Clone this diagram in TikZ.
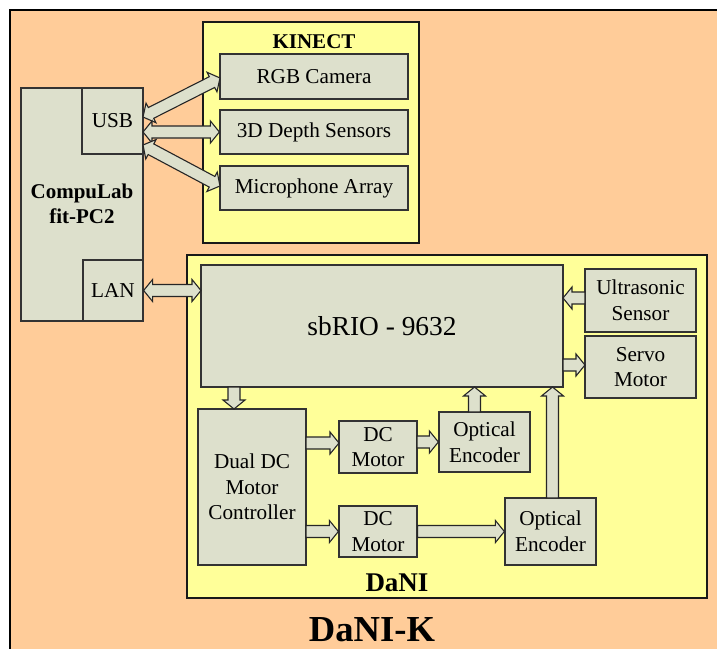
\documentclass[tikz,border=0pt]{standalone}
\usepackage{fontspec}
\setmainfont{Liberation Serif}
\usetikzlibrary{calc}
\definecolor{peach}{RGB}{255,204,153}
\definecolor{lemon}{RGB}{255,255,153}
\definecolor{boxgray}{RGB}{221,224,204}
\newcommand{\onearrow}[2]{\draw[blockarrow] ($(#1)!3pt!90:(#2)$) -- ($(#2)!4.5pt!(#1)!3pt!-90:(#1)$) -- ($(#2)!4.5pt!(#1)!5.5pt!-90:(#1)$) -- (#2) -- ($(#2)!4.5pt!(#1)!5.5pt!90:(#1)$) -- ($(#2)!4.5pt!(#1)!3pt!90:(#1)$) -- ($(#1)!3pt!-90:(#2)$) -- cycle;}
\newcommand{\twoarrow}[2]{\draw[blockarrow] (#1) -- ($(#1)!4.5pt!(#2)!5.5pt!90:(#2)$) -- ($(#1)!4.5pt!(#2)!3pt!90:(#2)$) -- ($(#2)!4.5pt!(#1)!3pt!-90:(#1)$) -- ($(#2)!4.5pt!(#1)!5.5pt!-90:(#1)$) -- (#2) -- ($(#2)!4.5pt!(#1)!5.5pt!90:(#1)$) -- ($(#2)!4.5pt!(#1)!3pt!90:(#1)$) -- ($(#1)!4.5pt!(#2)!3pt!-90:(#2)$) -- ($(#1)!4.5pt!(#2)!5.5pt!-90:(#2)$) -- cycle;}

\begin{document}
\begin{tikzpicture}[x=0.5pt,y=-0.5pt]
\tikzstyle{panel}=[draw=black!90, fill=lemon, line width=0.8pt, inner sep=0pt]
\tikzstyle{unit}=[draw=black!80, fill=boxgray, line width=0.6pt, inner sep=1pt, align=center, font=\fontsize{10.6}{12.8}\selectfont]
\tikzstyle{blockarrow}=[draw=black!85, fill=boxgray, line width=0.55pt, line join=miter]
\tikzstyle{heading}=[inner sep=0pt, align=center, font=\bfseries\fontsize{10.5}{12.5}\selectfont]

\fill[white] (0,0) rectangle (717,648);
\useasboundingbox (0,0) rectangle (717,648);
\draw[fill=peach, line width=0.7pt] (10,10) rectangle (740,670);

\node[panel, minimum width=108pt, minimum height=110.5pt] (kinect) at (311,132.5) {};
\node[heading] (kinectlbl) at (314,42) {KINECT};
\node[unit, minimum width=94pt, minimum height=22.5pt] (rgb) at (314,76.5) {RGB Camera};
\node[unit, minimum width=94pt, minimum height=22pt] (depth) at (314,132) {3D Depth Sensors};
\node[unit, minimum width=94pt, minimum height=22pt] (mic) at (314,188) {Microphone Array};

\node[unit, minimum width=61pt, minimum height=116.5pt] (pc) at (82,204.5) {};
\node[unit, minimum width=30.5pt, minimum height=33pt] (usb) at (112.5,121) {USB};
\node[unit, minimum width=30pt, minimum height=30.5pt] (lan) at (113,290.5) {LAN};
\node[heading] (pclbl) at (82,204) {CompuLab\\fit-PC2};

\node[panel, minimum width=260pt, minimum height=171.5pt] (dani) at (447,426.5) {};
\node[unit, minimum width=181pt, minimum height=61pt, font=\fontsize{13.7}{16}\selectfont] (sbrio) at (382,326) {sbRIO - 9632};
\node[unit, minimum width=55.5pt, minimum height=31.5pt] (ultra) at (640.5,300.5) {Ultrasonic\\Sensor};
\node[unit, minimum width=55.5pt, minimum height=31pt] (servo) at (640.5,367) {Servo\\Motor};
\node[unit, minimum width=54pt, minimum height=78pt] (dual) at (252,487) {Dual DC\\Motor\\Controller};
\node[unit, minimum width=39pt, minimum height=26pt] (dcone) at (378,447) {DC\\Motor};
\node[unit, minimum width=39pt, minimum height=25.5pt] (dctwo) at (378,531.5) {DC\\Motor};
\node[unit, minimum width=45.5pt, minimum height=30pt] (encone) at (484.5,442) {Optical\\Encoder};
\node[unit, minimum width=45.5pt, minimum height=33.5pt] (enctwo) at (550.5,531.5) {Optical\\Encoder};
\node[heading, font=\bfseries\fontsize{13.5}{16}\selectfont] (danilbl) at (397,583) {DaNI};
\node[heading, font=\bfseries\fontsize{18.3}{21}\selectfont] (title) at (372,630) {DaNI-K};

\coordinate (usbtop) at (143,117);
\coordinate (usbmid) at (143,132);
\coordinate (usbbot) at (143,145);
\coordinate (rgbin) at (220,78);
\coordinate (micin) at (220,186);
\coordinate (sbrioleft) at (201,290.5);
\coordinate (sbriodown) at (234,387);
\coordinate (dualin) at (234,409);
\coordinate (ultraout) at (585,298);
\coordinate (ultrain) at (563,298);
\coordinate (servoout) at (563,365);
\coordinate (servoin) at (585,365);
\coordinate (dualone) at (306,443);
\coordinate (dconein) at (339,443);
\coordinate (dconeout) at (417,442);
\coordinate (enconeout) at (474.5,412);
\coordinate (enconein) at (474.5,387);
\coordinate (dualtwo) at (306,531.5);
\coordinate (enctwoout) at (552.5,498);
\coordinate (enctwoin) at (552.5,387);

\twoarrow{usbtop}{rgbin}
\twoarrow{usbmid}{depth.west}
\twoarrow{usbbot}{micin}
\twoarrow{lan.east}{sbrioleft}
\onearrow{sbriodown}{dualin}
\onearrow{ultraout}{ultrain}
\onearrow{servoout}{servoin}
\onearrow{dualone}{dconein}
\onearrow{dconeout}{encone.west}
\onearrow{enconeout}{enconein}
\onearrow{dualtwo}{dctwo.west}
\onearrow{dctwo.east}{enctwo.west}
\onearrow{enctwoout}{enctwoin}
\end{tikzpicture}
\end{document}
